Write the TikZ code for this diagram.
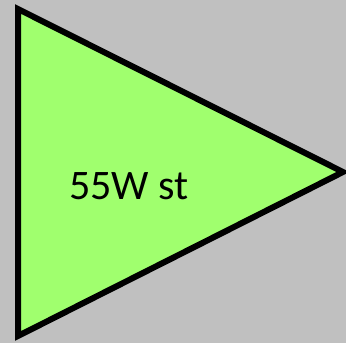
\documentclass[tikz,border=0pt]{standalone}
\usepackage{fontspec}
\setmainfont{Carlito}
\usetikzlibrary{positioning}
\definecolor{BackGray}{RGB}{192, 192, 192}
\definecolor{SignGreen}{RGB}{160, 255, 110}

\begin{document}
\begin{tikzpicture}[x=1pt, y=1pt]
    % Background
    \fill[BackGray] (0,0) rectangle (346,343);
    \useasboundingbox (0,0) rectangle (346,343);

    % Triangle
    \coordinate (top) at (18,334);
    \coordinate (bottom) at (18,7);
    \coordinate (tip) at (343,171);
    \draw[line width=6pt, fill=SignGreen, line join=miter] (top) -- (tip) -- (bottom) -- cycle;

    % Label
    \node[anchor=base, inner sep=0pt, font=\fontsize{42}{50}\selectfont] (label) at (129,143) {55W st};
  \end{tikzpicture}
\end{document}
